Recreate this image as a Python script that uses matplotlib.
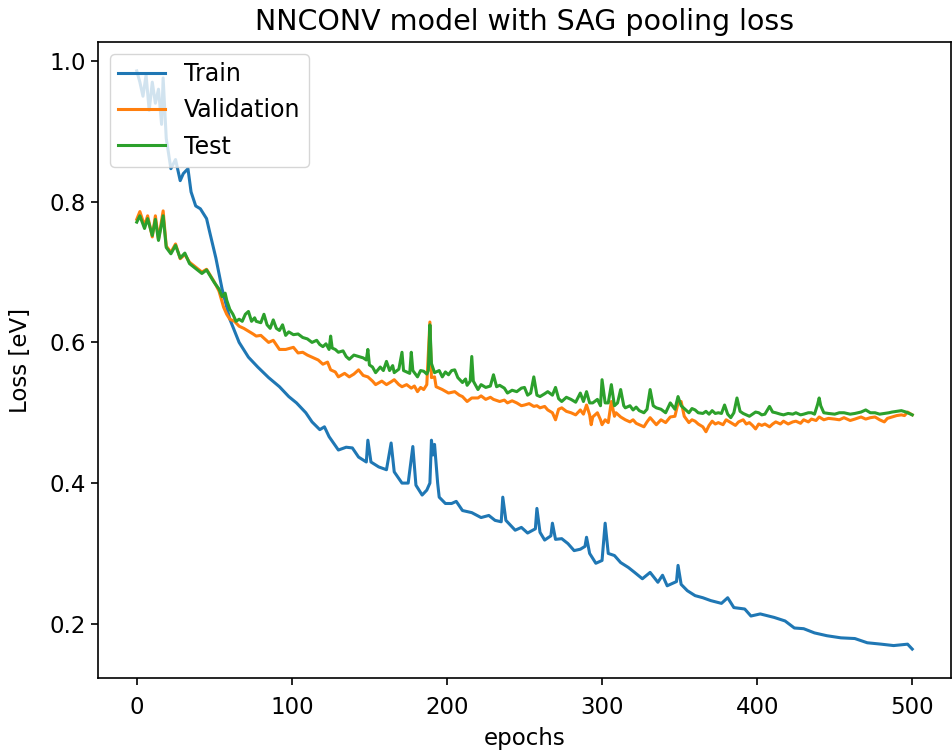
import matplotlib
matplotlib.use("Agg")
import matplotlib.pyplot as plt

title = "NNCONV model with SAG pooling loss"
xlabel = "epochs"
ylabel = "Loss [eV]"
series_names = ["Train", "Validation", "Test"]

train_epochs = [0, 2, 4, 6, 8, 10, 12, 14, 16, 17, 19, 22, 25, 28, 30, 33, 35, 38, 41, 45, 47, 51, 55,
                60, 66, 72, 78, 85, 92, 98, 103, 109, 113, 118, 121, 124, 130, 135, 139, 143, 148, 149,
                151, 156, 161, 164, 166, 171, 175, 178, 180, 184, 187, 189, 190, 191, 192, 194, 195, 199,
                203, 206, 210, 216, 222, 227, 231, 235, 236, 238, 244, 248, 252, 257, 258, 260, 263, 267,
                268, 270, 274, 278, 282, 286, 289, 290, 292, 296, 300, 302, 304, 308, 312, 317, 321, 326,
                331, 336, 339, 342, 348, 349, 351, 355, 360, 365, 370, 377, 381, 385, 392, 396, 402, 411,
                418, 424, 430, 437, 445, 454, 463, 471, 480, 488, 497, 500]
train_loss = [0.986, 0.97, 0.95, 0.98, 0.93, 0.97, 0.94, 0.96, 0.91, 0.976, 0.89, 0.847, 0.86, 0.83,
              0.84, 0.847, 0.814, 0.794, 0.79, 0.776, 0.757, 0.72, 0.676, 0.633, 0.60, 0.579, 0.565,
              0.55, 0.537, 0.523, 0.514, 0.50, 0.487, 0.476, 0.48, 0.466, 0.447, 0.451, 0.45, 0.437,
              0.43, 0.461, 0.43, 0.423, 0.419, 0.457, 0.416, 0.40, 0.40, 0.452, 0.397, 0.383, 0.39,
              0.40, 0.461, 0.44, 0.455, 0.40, 0.38, 0.371, 0.371, 0.374, 0.361, 0.358, 0.351, 0.354,
              0.347, 0.345, 0.38, 0.347, 0.333, 0.337, 0.329, 0.335, 0.364, 0.33, 0.319, 0.325, 0.343,
              0.32, 0.321, 0.314, 0.304, 0.306, 0.31, 0.323, 0.30, 0.286, 0.29, 0.343, 0.30, 0.297,
              0.287, 0.28, 0.273, 0.264, 0.273, 0.259, 0.269, 0.254, 0.26, 0.283, 0.256, 0.247, 0.24,
              0.237, 0.233, 0.229, 0.237, 0.223, 0.221, 0.211, 0.214, 0.209, 0.204, 0.194, 0.193,
              0.187, 0.183, 0.18, 0.179, 0.173, 0.171, 0.169, 0.171, 0.164]

val_epochs = [0, 2, 5, 7, 10, 12, 14, 17, 19, 22, 25, 28, 31, 34, 38, 42, 45, 50, 53, 56, 58, 60, 63,
              66, 69, 72, 75, 77, 80, 82, 85, 88, 92, 96, 101, 104, 107, 110, 113, 117, 120, 123, 125,
              128, 130, 134, 137, 140, 143, 146, 149, 152, 154, 158, 161, 164, 166, 169, 171, 174, 177,
              179, 181, 183, 185, 187, 189, 190, 192, 193, 197, 201, 205, 208, 210, 213, 216, 220, 222,
              225, 228, 230, 234, 237, 239, 242, 245, 248, 250, 253, 256, 258, 260, 263, 265, 268, 270,
              272, 274, 277, 280, 283, 286, 288, 290, 292, 293, 294, 297, 299, 300, 302, 304, 306, 308,
              309, 312, 315, 318, 320, 322, 324, 327, 329, 331, 333, 335, 338, 341, 344, 347, 349, 351,
              353, 356, 358, 360, 362, 365, 367, 369, 371, 373, 375, 378, 380, 383, 386, 388, 391, 393,
              395, 397, 399, 401, 403, 405, 408, 410, 412, 415, 417, 420, 423, 425, 428, 430, 433, 435,
              438, 440, 443, 446, 450, 453, 456, 460, 463, 467, 470, 473, 476, 479, 482, 484, 487, 490,
              493, 495, 497, 500]
val_loss = [0.775, 0.786, 0.766, 0.78, 0.75, 0.78, 0.746, 0.787, 0.737, 0.728, 0.74, 0.719, 0.725,
            0.714, 0.707, 0.70, 0.704, 0.686, 0.673, 0.65, 0.64, 0.633, 0.63, 0.623, 0.62, 0.616,
            0.612, 0.609, 0.61, 0.606, 0.60, 0.603, 0.59, 0.59, 0.593, 0.585, 0.586, 0.582, 0.579,
            0.575, 0.569, 0.572, 0.561, 0.558, 0.551, 0.556, 0.551, 0.555, 0.561, 0.553, 0.551, 0.545,
            0.54, 0.545, 0.54, 0.544, 0.547, 0.54, 0.537, 0.54, 0.535, 0.538, 0.53, 0.536, 0.533, 0.54,
            0.629, 0.55, 0.551, 0.537, 0.533, 0.528, 0.53, 0.525, 0.523, 0.516, 0.521, 0.521, 0.524,
            0.519, 0.522, 0.519, 0.516, 0.518, 0.514, 0.517, 0.514, 0.51, 0.511, 0.513, 0.509, 0.51,
            0.507, 0.509, 0.504, 0.50, 0.49, 0.505, 0.507, 0.502, 0.50, 0.497, 0.504, 0.498, 0.511,
            0.497, 0.483, 0.494, 0.50, 0.49, 0.483, 0.49, 0.486, 0.516, 0.495, 0.50, 0.494, 0.49, 0.487,
            0.49, 0.485, 0.483, 0.48, 0.487, 0.493, 0.488, 0.483, 0.49, 0.486, 0.494, 0.495, 0.514,
            0.516, 0.495, 0.486, 0.49, 0.488, 0.484, 0.48, 0.473, 0.482, 0.488, 0.484, 0.486, 0.483,
            0.49, 0.486, 0.482, 0.487, 0.49, 0.484, 0.486, 0.482, 0.477, 0.484, 0.482, 0.484, 0.48,
            0.484, 0.487, 0.484, 0.488, 0.484, 0.487, 0.488, 0.485, 0.49, 0.487, 0.491, 0.489, 0.494,
            0.49, 0.492, 0.491, 0.49, 0.493, 0.489, 0.491, 0.494, 0.491, 0.493, 0.494, 0.49, 0.487,
            0.492, 0.494, 0.496, 0.497, 0.496, 0.501, 0.497]

test_epochs = [0, 2, 5, 7, 10, 12, 14, 17, 19, 22, 25, 28, 31, 34, 38, 42, 45, 50, 53, 55, 57, 58, 60,
               62, 64, 66, 68, 70, 72, 74, 76, 77, 80, 82, 84, 86, 88, 90, 92, 94, 96, 98, 101, 104, 107,
               110, 113, 116, 118, 120, 122, 124, 125, 126, 128, 130, 133, 135, 137, 140, 143, 146, 148,
               149, 150, 152, 154, 157, 159, 161, 163, 165, 166, 169, 171, 172, 174, 176, 177, 178, 181,
               183, 185, 187, 188, 189, 190, 192, 195, 197, 199, 201, 203, 205, 207, 210, 212, 213, 215,
               216, 217, 220, 222, 225, 228, 230, 232, 234, 237, 239, 242, 245, 248, 250, 252, 254, 256,
               258, 260, 263, 265, 268, 270, 272, 274, 277, 280, 283, 286, 288, 290, 292, 294, 297, 299,
               300, 302, 304, 306, 308, 310, 312, 314, 315, 318, 320, 322, 324, 327, 329, 331, 333, 335,
               338, 341, 344, 347, 349, 351, 353, 356, 358, 360, 362, 365, 367, 369, 371, 373, 375, 377,
               379, 381, 383, 385, 387, 389, 391, 393, 395, 397, 399, 401, 403, 405, 408, 410, 412, 415,
               417, 420, 423, 425, 428, 430, 433, 435, 437, 439, 440, 441, 443, 446, 450, 453, 456, 460,
               463, 467, 470, 473, 476, 479, 482, 485, 487, 490, 493, 496, 498, 500]
test_loss = [0.771, 0.78, 0.762, 0.776, 0.752, 0.775, 0.745, 0.78, 0.735, 0.726, 0.738, 0.72, 0.727,
             0.712, 0.705, 0.698, 0.703, 0.685, 0.676, 0.665, 0.67, 0.66, 0.647, 0.64, 0.63, 0.633,
             0.63, 0.64, 0.644, 0.63, 0.635, 0.63, 0.628, 0.64, 0.625, 0.62, 0.632, 0.62, 0.617, 0.625,
             0.61, 0.615, 0.611, 0.612, 0.607, 0.605, 0.60, 0.603, 0.597, 0.594, 0.598, 0.59, 0.609,
             0.592, 0.59, 0.586, 0.588, 0.58, 0.576, 0.582, 0.58, 0.578, 0.575, 0.59, 0.568, 0.565,
             0.557, 0.565, 0.56, 0.573, 0.56, 0.567, 0.557, 0.562, 0.586, 0.56, 0.558, 0.556, 0.586,
             0.56, 0.551, 0.56, 0.559, 0.555, 0.56, 0.625, 0.57, 0.557, 0.56, 0.551, 0.558, 0.554, 0.56,
             0.561, 0.55, 0.543, 0.548, 0.539, 0.545, 0.58, 0.545, 0.533, 0.54, 0.536, 0.538, 0.554,
             0.537, 0.539, 0.535, 0.528, 0.532, 0.53, 0.535, 0.536, 0.525, 0.528, 0.551, 0.525, 0.523,
             0.527, 0.53, 0.525, 0.536, 0.52, 0.516, 0.522, 0.519, 0.515, 0.528, 0.516, 0.53, 0.514,
             0.514, 0.519, 0.51, 0.547, 0.514, 0.514, 0.54, 0.51, 0.514, 0.533, 0.51, 0.507, 0.51,
             0.504, 0.508, 0.503, 0.50, 0.505, 0.533, 0.51, 0.507, 0.505, 0.50, 0.514, 0.505, 0.523,
             0.51, 0.506, 0.50, 0.506, 0.504, 0.50, 0.499, 0.502, 0.498, 0.503, 0.499, 0.50, 0.499,
             0.511, 0.498, 0.493, 0.50, 0.521, 0.502, 0.499, 0.497, 0.495, 0.498, 0.501, 0.50, 0.497,
             0.498, 0.509, 0.501, 0.50, 0.498, 0.497, 0.499, 0.498, 0.50, 0.497, 0.498, 0.50, 0.50,
             0.498, 0.512, 0.521, 0.51, 0.50, 0.499, 0.498, 0.50, 0.50, 0.498, 0.499, 0.501, 0.504,
             0.50, 0.50, 0.498, 0.499, 0.50, 0.501, 0.502, 0.503, 0.501, 0.499, 0.497]

fig = plt.figure(figsize=(9.53, 7.55), dpi=100)
ax = fig.add_axes([98 / 953, 77 / 755, 853 / 953, 636 / 755])

lw = 2.2
ax.plot(train_epochs, train_loss, color="#1f77b4", lw=lw, label=series_names[0])
ax.plot(val_epochs, val_loss, color="#ff7f0e", lw=lw, label=series_names[1])
ax.plot(test_epochs, test_loss, color="#2ca02c", lw=lw, label=series_names[2])

ax.set_xticks([0, 100, 200, 300, 400, 500])
ax.set_yticks([0.2, 0.4, 0.6, 0.8, 1.0])
ax.set_yticklabels(["0.2", "0.4", "0.6", "0.8", "1.0"])
ax.tick_params(labelsize=16.5, length=5, width=1.2)
ax.tick_params(axis="x", pad=8)
for s in ax.spines.values():
    s.set_linewidth(1.2)

ax.set_title(title, fontsize=20.5, pad=9)
ax.set_xlabel(xlabel, fontsize=16.5, labelpad=6)
ax.set_ylabel(ylabel, fontsize=16.5, labelpad=13)
ax.legend(loc="upper left", fontsize=17, labelspacing=0.52, borderaxespad=0.5,
          handlelength=2.0, borderpad=0.35)

fig.savefig("out.png", dpi=100)
